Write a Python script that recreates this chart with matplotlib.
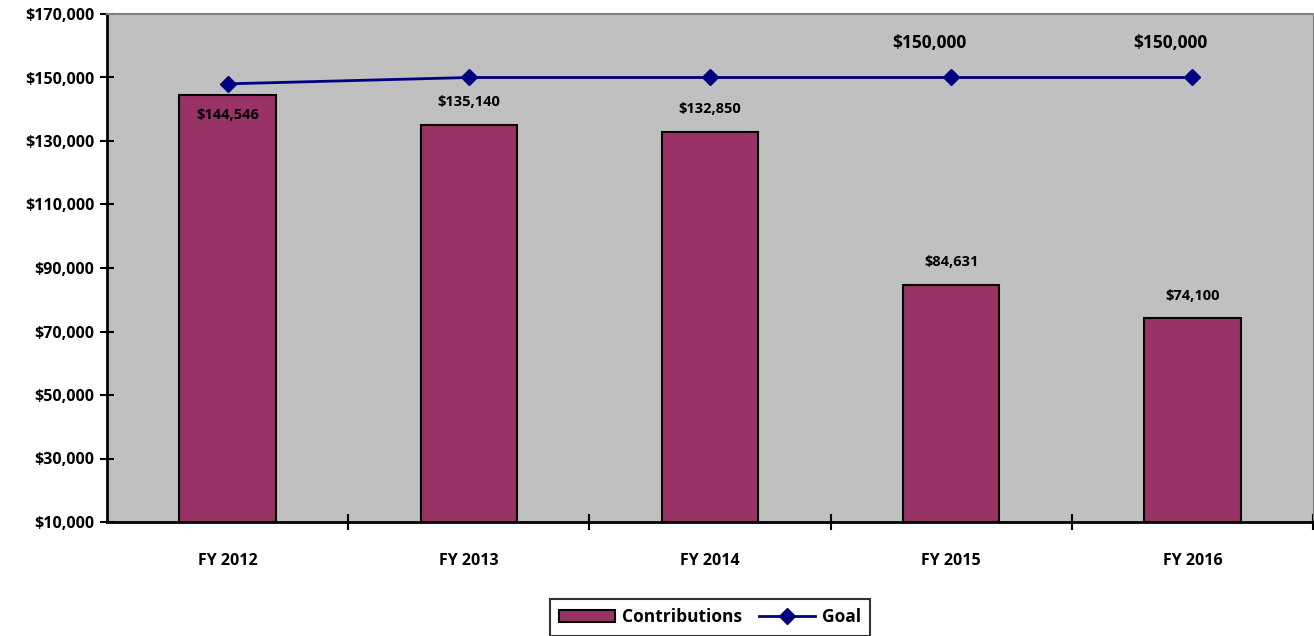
import matplotlib.pyplot as plt
from matplotlib.ticker import FuncFormatter

plt.rcParams['font.family'] = ['Open Sans', 'DejaVu Sans']
plt.rcParams['font.weight'] = 'bold'

years = ['FY 2012', 'FY 2013', 'FY 2014', 'FY 2015', 'FY 2016']
contributions = [144546, 135140, 132850, 84631, 74100]
goal = [148000, 150000, 150000, 150000, 150000]
goal_labels = ['', '', '', '$150,000', '$150,000']

fig = plt.figure(figsize=(13.14, 6.36), dpi=100)
ax = fig.add_axes([107/1314, 1 - 522/636, 1 - 107/1314 - 1/1314, (522 - 14)/636])
ax.set_facecolor('#C0C0C0')

x = list(range(len(years)))
bars = ax.bar(x, [c - 10000 for c in contributions], bottom=10000, width=0.4,
              color='#993366', edgecolor='black', linewidth=1.5, label='Contributions', zorder=2)
line, = ax.plot(x, goal, color='#000080', linewidth=2, marker='D', markersize=8,
                label='Goal', zorder=3)

for i, v in enumerate(contributions):
    if i == 0:
        off = -14.5
    else:
        off = 16.5
    ax.annotate('${:,}'.format(v), (i, v), xytext=(0, off), textcoords='offset points',
                ha='center', va='center', fontsize=10.5, fontweight='bold')

for i, (g, lab) in enumerate(zip(goal, goal_labels)):
    if lab:
        ax.annotate(lab, (i, g), xytext=(-16, 24.5), textcoords='offset points',
                    ha='center', va='center', fontsize=12.5, fontweight='bold')

ax.set_xlim(-0.5, len(years) - 0.5)
ax.set_ylim(10000, 170000)
ax.set_yticks(range(10000, 170001, 20000))
ax.yaxis.set_major_formatter(FuncFormatter(lambda v, p: '${:,.0f}'.format(v)))
ax.set_xticks(x)
ax.set_xticklabels(years)
ax.set_xticks([i + 0.5 for i in range(len(years))], minor=True)
ax.tick_params(axis='x', which='major', length=0, pad=22, labelsize=11.5)
ax.tick_params(axis='x', which='minor', length=12, width=1.5, direction='inout')
ax.tick_params(axis='y', length=10, width=1.5, direction='inout', labelsize=11.5, pad=4)
for t in ax.get_xticklabels() + ax.get_yticklabels():
    t.set_fontweight('bold')

for s in ['left', 'bottom']:
    ax.spines[s].set_color('black')
    ax.spines[s].set_linewidth(2)
ax.spines['top'].set_color('#808080')
ax.spines['top'].set_linewidth(1.5)
ax.spines['right'].set_color('#808080')

leg = fig.legend([bars, line], ['Contributions', 'Goal'], loc='upper center',
                 bbox_to_anchor=(710/1314, 1 - 590/636), ncol=2,
                 frameon=True, fancybox=False, edgecolor='black', fontsize=12.5,
                 handlelength=3.2, columnspacing=1, handletextpad=0.4, borderpad=0.55)
leg.get_frame().set_linewidth(1.5)

fig.savefig('out.png', dpi=100)
